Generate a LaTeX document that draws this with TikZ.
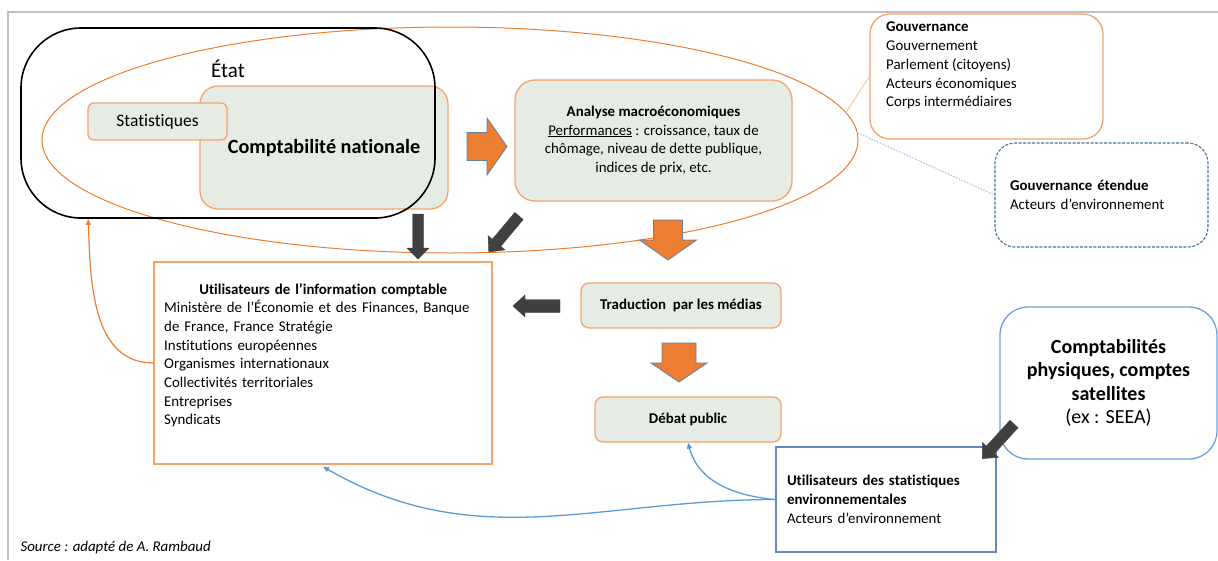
\documentclass[tikz,border=0pt]{standalone}
\usepackage{fontspec}
\setmainfont{Carlito}[Ligatures={TeX,NoCommon}]
\usetikzlibrary{arrows.meta,shapes.geometric,positioning}
\definecolor{orline}{HTML}{ED7D31}
\definecolor{orbox}{HTML}{F4A36C}
\definecolor{boxfill}{HTML}{E6ECE4}
\definecolor{darkarr}{HTML}{404040}
\definecolor{bluebox}{HTML}{6FA0D8}
\definecolor{bluerect}{HTML}{6389BC}
\definecolor{blueline}{HTML}{5B9BD5}
\definecolor{bluedash}{HTML}{44709C}
\definecolor{bluedot}{HTML}{9DC3E6}
\definecolor{arrowedge}{HTML}{5E7FA6}
\definecolor{framegray}{HTML}{C0C0C0}
\def\blockarrow[#1](#2)(#3:#4:#5:#6:#7){\begin{scope}[shift={(#2)},rotate=#3]\draw[#1] (0,-#5) -- (#4-#7,-#5) -- (#4-#7,-#6) -- (#4,0) -- (#4-#7,#6) -- (#4-#7,#5) -- (0,#5) -- cycle;\end{scope}}
\tikzset{
	bodytext/.style={font=\fontsize{14.9}{18.7}\selectfont},
	greenbox/.style={draw=orbox, fill=boxfill, line width=1.3pt, rounded corners=#1, inner sep=0pt},
	greenbox/.default=18pt,
	orframe/.style={draw=orbox, fill=white, line width=1.3pt, inner sep=0pt},
	orblock/.style={fill=orline, draw=arrowedge, line width=0.8pt},
	darkblock/.style={fill=darkarr, draw=darkarr, line width=0.4pt},
	orarrow/.style={draw=orline, line width=1.2pt, -{Triangle[length=6pt,width=5pt]}},
	bluearrow/.style={draw=blueline, line width=1.3pt, -{Triangle[length=6pt,width=5pt]}}
}
\begin{document}
\begin{tikzpicture}[x=1pt,y=-1pt]
		%%%%% START %%%%%
		\useasboundingbox (0,0) rectangle (1218,560);
		\draw[framegray, line width=1.5pt] (8,560) -- (8,12) -- (1218,12);
		
		% sphere of the state
		\node[draw=orline, line width=1pt, ellipse, minimum width=816pt, minimum height=226pt, inner sep=0pt] (sphere) at (450,140) {};
		
		% right column
		\node[orframe, rounded corners=20pt, minimum width=233pt, minimum height=125pt] (gouv) at (986.5,76.5) {};
		\node[anchor=north west, inner sep=0pt, align=left, bodytext] (gouvtxt) at (886,22) {\textbf{Gouvernance}\\Gouvernement\\Parlement (citoyens)\\Acteurs économiques\\Corps intermédiaires};
		\node[draw=bluedash, fill=white, line width=1.1pt, dash pattern=on 3pt off 1.5pt, rounded corners=20pt, minimum width=213pt, minimum height=104pt, inner xsep=15pt, text width=183pt, align=left, bodytext] (gouvext) at (1101.5,195) {\textbf{Gouvernance étendue}\\Acteurs d’environnement};
		\draw[orbox!70, line width=0.8pt] (sphere.4) -- (gouv.west);
		\draw[bluedot, line width=1pt, dash pattern=on 1.5pt off 1.5pt] (sphere.1) -- (gouvext.west);
		
		% state
		\node[greenbox, minimum width=248pt, minimum height=123pt, font=\bfseries\fontsize{20.2}{24}\selectfont] (compta) at (324,147.5) {Comptabilité nationale};
		\node[greenbox=6pt, minimum width=139pt, minimum height=37pt, font=\fontsize{17.5}{21}\selectfont] (stat) at (157.5,121.5) {Statistiques};
		\node[draw=black, line width=1.6pt, rounded corners=60pt, minimum width=414pt, minimum height=190pt] (etat) at (228,123) {};
		\node[font=\fontsize{21}{25}\selectfont] (etatlabel) at (228,69) {État};
		
		\node[greenbox=20pt, minimum width=277pt, minimum height=121pt, align=center, bodytext] (analyse) at (653.5,140.5) {\textbf{Analyse macroéconomiques}\\\underline{Performances} : croissance, taux de\\chômage, niveau de dette publique,\\indices de prix, etc.};
		\node[greenbox=8pt, minimum width=200pt, minimum height=45pt, font=\bfseries\fontsize{14.9}{18}\selectfont] (media) at (681,305.5) {Traduction~ par les médias};
		\node[greenbox=8pt, minimum width=186pt, minimum height=45pt, font=\bfseries\fontsize{14.9}{18}\selectfont] (debat) at (688,419.5) {Débat public};
		
		% users
		\node[orframe, minimum width=338pt, minimum height=202pt] (infobox) at (323,363) {};
		\node[anchor=north west, inner sep=0pt, text width=318pt, bodytext] (infotxt) at (164,283) {{\centering\bfseries Utilisateurs de l’information comptable\par}\raggedright Ministère de l’Économie et des Finances, Banque\\de France, France Stratégie\\Institutions européennes\\Organismes internationaux\\Collectivités territoriales\\Entreprises\\Syndicats};
		
		\node[draw=bluebox, fill=white, line width=1.3pt, rounded corners=28pt, minimum width=217pt, minimum height=152pt, align=center, font=\bfseries\fontsize{20}{23.5}\selectfont] (physique) at (1108.5,383) {Comptabilités\\physiques, comptes\\satellites\\{\mdseries (ex : SEEA)}};
		\node[draw=bluerect, fill=white, line width=1.3pt, minimum width=220pt, minimum height=105pt, inner xsep=11pt, text width=198pt, align=left, bodytext] (envbox) at (886,499.5) {\textbf{Utilisateurs des statistiques}\\\textbf{environnementales}\\Acteurs d’environnement};
		
		% block arrows
		\blockarrow[orblock](467,146.5)(0:40:14:28.5:20)
		\blockarrow[orblock](668,220)(-90:40:14.5:28.5:20)
		\blockarrow[orblock](679,343)(-90:39:17:28:19)
		\blockarrow[darkblock](418,214)(-90:45:5.5:11:11)
		\blockarrow[darkblock](519,216)(230:47:5.5:11:12)
		\blockarrow[darkblock](560,306)(180:47:6.5:11:12)
		\blockarrow[darkblock](1014,424)(227.6:47:5.5:11:12)
		
		% feedback
		\draw[orarrow] (infobox.west) to[out=180,in=-88] ([xshift=68pt]etat.south west);
		\draw[bluearrow] (envbox.west) to[out=175,in=-75] (debat.south);
		\draw[bluearrow] (envbox.west) to[out=180,in=-30] ([yshift=-2pt]infobox.south);
		
		\node[anchor=west, font=\itshape\fontsize{14.9}{18}\selectfont] (source) at (17,548) {Source : adapté de A. Rambaud};
		%%%%% END %%%%%
\end{tikzpicture}
\end{document}
